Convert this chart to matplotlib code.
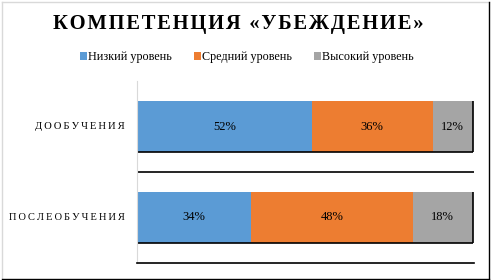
import matplotlib.pyplot as plt
from matplotlib.lines import Line2D
import numpy as np

# данные
categories = ["ДООБУЧЕНИЯ", "ПОСЛЕОБУЧЕНИЯ"]
series_names = ["Низкий уровень", "Средний уровень", "Высокий уровень"]
low = [0.52, 0.34]
mid = [0.36, 0.48]
high = [0.12, 0.18]
colors = ["#5B9BD5", "#ED7D31", "#A5A5A5"]
title = "КОМПЕТЕНЦИЯ «УБЕЖДЕНИЕ»"


def spaced(s, sep="\u2009"):
    return sep.join(list(s))


def fit_width(txt, target_px, renderer):
    # подгоняем размер шрифта под нужную ширину
    for _ in range(3):
        w = txt.get_window_extent(renderer).width
        txt.set_fontsize(txt.get_fontsize() * target_px / w)


plt.rcParams['font.family'] = ['Liberation Serif', 'DejaVu Serif']

fig = plt.figure(figsize=(4.91, 2.80), dpi=100)
ax = fig.add_axes([137 / 491, 1 - 263 / 280, (474 - 137) / 491, (263 - 81) / 280])

y = np.array([1, 0])
h = 0.55
left = np.zeros(len(categories))
for vals, name, c in zip([low, mid, high], series_names, colors):
    vals = np.array(vals)
    ax.barh(y, vals, left=left, height=h, color=c, label=name, edgecolor="none")
    for yi, l, v in zip(y, left, vals):
        ax.text(l + v / 2, yi, f"{round(v * 100)}%", ha="center", va="center",
                fontsize=9, color="black")
    left = left + vals

# чёрные контуры снизу и справа у полос
ax.hlines(y - h / 2, 0, left, color="black", lw=1.2)
ax.vlines(left, y - h / 2, y + h / 2, color="black", lw=1.2)
# линии между категориями
ax.hlines([0.5], 0, 1.003, color="black", lw=1.2)

ax.set_xlim(0, 1.003)
ax.set_ylim(-0.5, 1.5)
ax.set_yticks(y)
ax.set_yticklabels([])
ax.set_xticks([])
ax.tick_params(axis="y", length=0)
for s in ["top", "right"]:
    ax.spines[s].set_visible(False)
ax.spines["left"].set_color("#D9D9D9")
ax.spines["bottom"].set_color("black")
ax.spines["bottom"].set_linewidth(1.2)

renderer = fig.canvas.get_renderer()
label_widths = [89, 115]
for cat, yi, wpx in zip(categories, y, label_widths):
    t = ax.text(-12 / 337, yi, spaced(cat, "\u2009"), ha="right", va="center",
                fontsize=8, transform=ax.get_yaxis_transform())
    fit_width(t, wpx, renderer)

tt = fig.text(238 / 491, 1 - 24 / 280, spaced(title, "\u200a"), ha="center", va="center",
              fontsize=15, fontweight="bold")
fit_width(tt, 369, renderer)

fig.legend(loc="center", bbox_to_anchor=(247 / 491, 1 - 57 / 280), ncol=3,
           frameon=False, fontsize=8.7, handlelength=0.6, handleheight=0.6,
           handletextpad=0.1, columnspacing=1.8)

# рамка диаграммы
fig.add_artist(Line2D([1.5 / 491, 488.5 / 491], [1 - 1.5 / 280] * 2, color="#D9D9D9", lw=1, transform=fig.transFigure))
fig.add_artist(Line2D([1.5 / 491] * 2, [1 - 1.5 / 280, 1 - 278.5 / 280], color="#D9D9D9", lw=1, transform=fig.transFigure))
fig.add_artist(Line2D([488.5 / 491] * 2, [1 - 1.5 / 280, 1 - 278.5 / 280], color="black", lw=1, transform=fig.transFigure))
fig.add_artist(Line2D([1.5 / 491, 488.5 / 491], [1 - 278.5 / 280] * 2, color="black", lw=1, transform=fig.transFigure))

fig.savefig("out.png", dpi=100)
